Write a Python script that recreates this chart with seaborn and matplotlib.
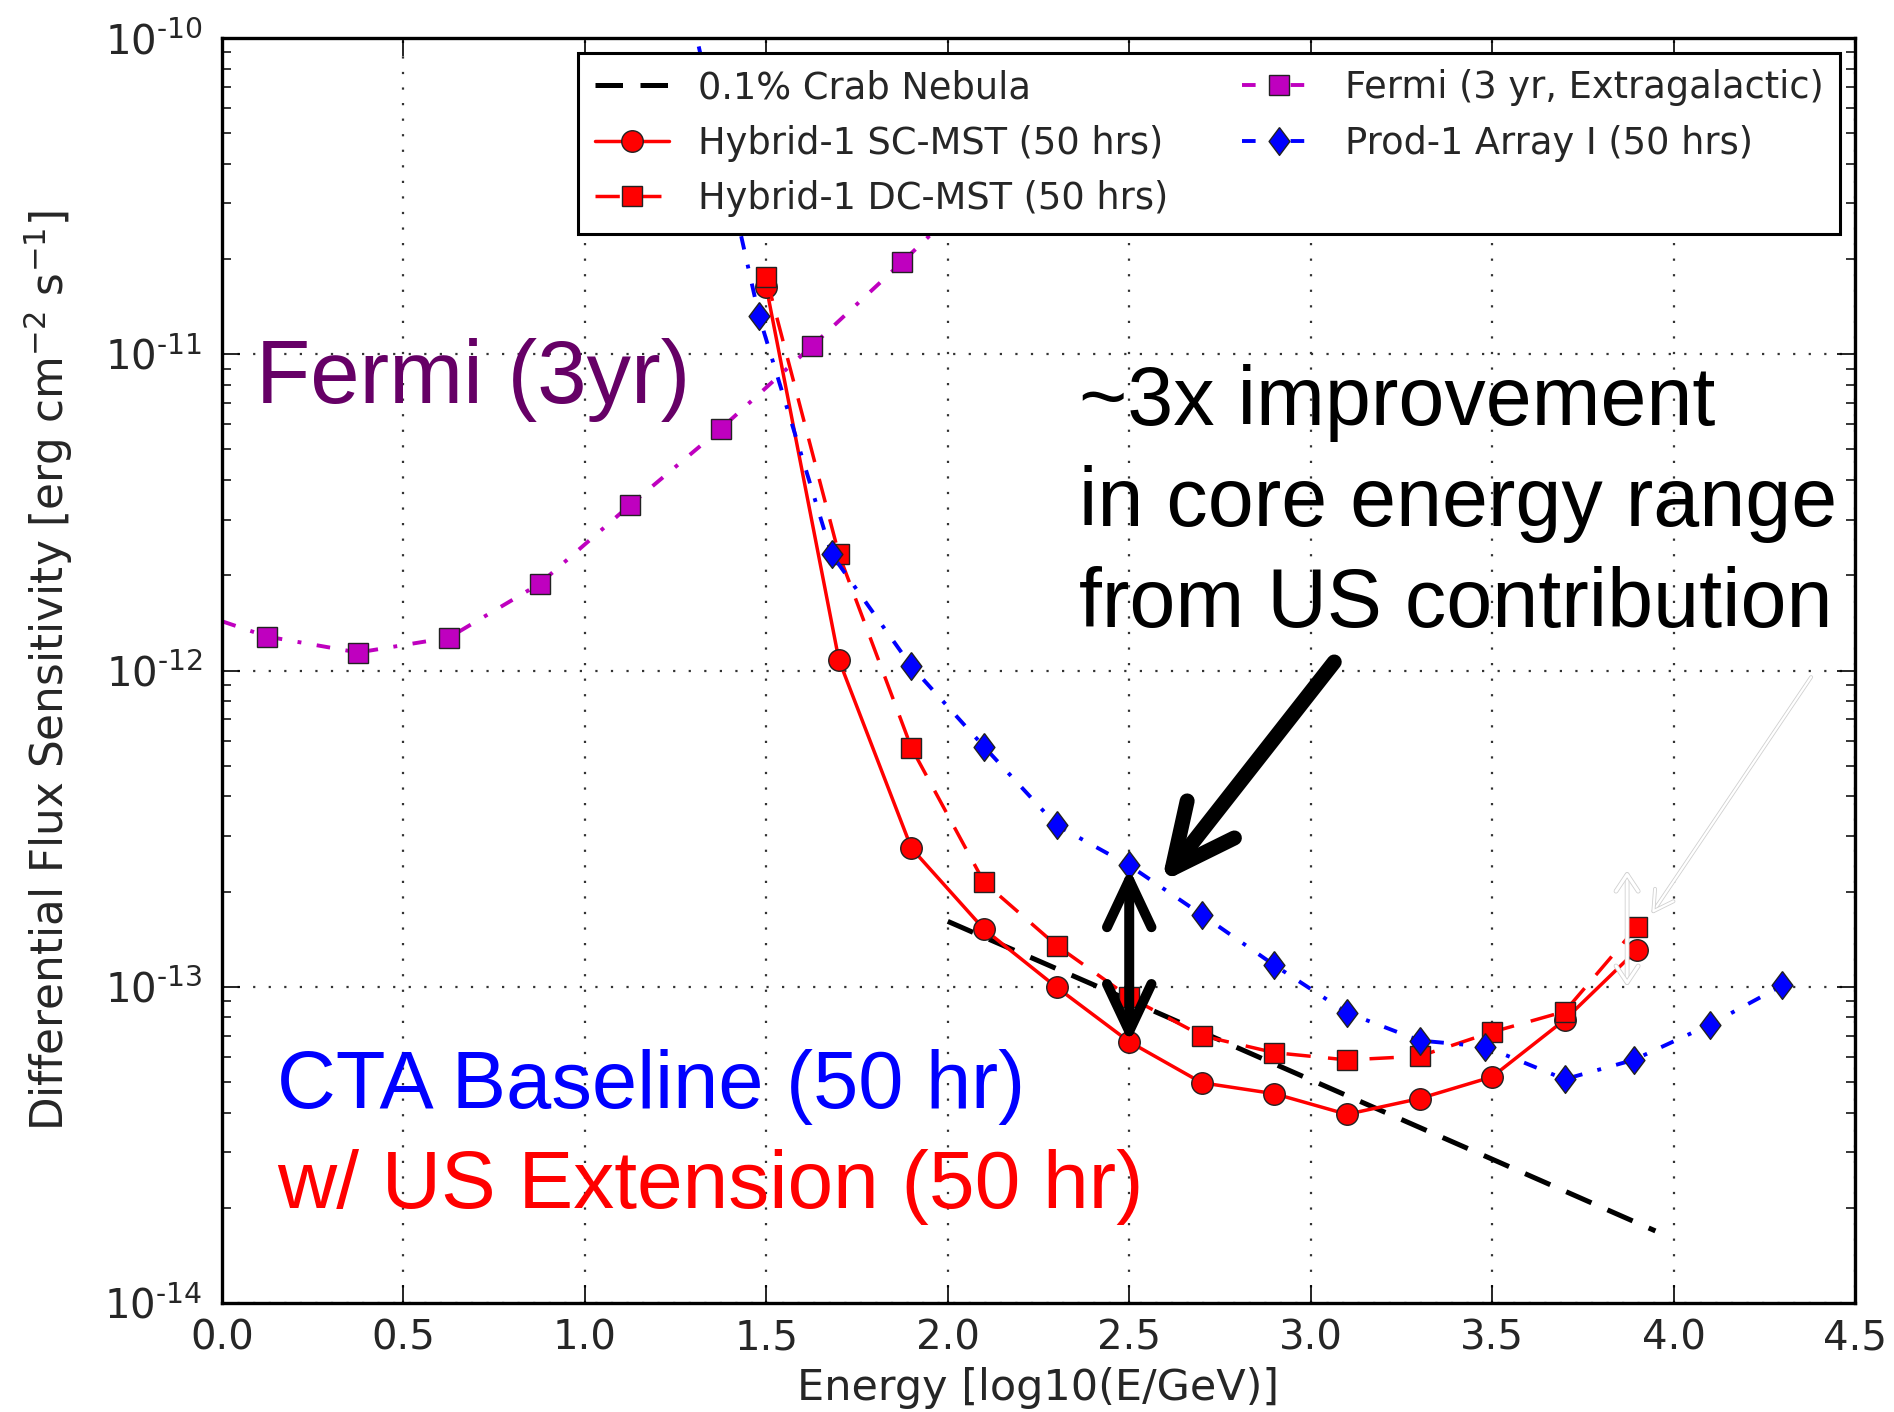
import numpy as np
import pandas as pd
import matplotlib
matplotlib.use("Agg")
import matplotlib.pyplot as plt
import seaborn as sns
from matplotlib.patches import FancyArrowPatch, ArrowStyle
from matplotlib import patheffects as pe
from matplotlib.ticker import FixedLocator, FixedFormatter, LogLocator, NullFormatter

# ---------------- data ----------------
crab_x = [2.0, 2.5, 3.0, 3.5, 3.95]
crab_y = [1.61e-13, 9.06e-14, 5.08e-14, 2.85e-14, 1.69e-14]

sc_x = [1.5, 1.7, 1.9, 2.1, 2.3, 2.5, 2.7, 2.9, 3.1, 3.3, 3.5, 3.7, 3.9]
sc_y = [1.63e-11, 1.08e-12, 2.74e-13, 1.52e-13, 9.96e-14, 6.70e-14, 4.97e-14,
        4.59e-14, 3.95e-14, 4.43e-14, 5.19e-14, 7.86e-14, 1.31e-13]

dc_x = [1.5, 1.7, 1.9, 2.1, 2.3, 2.5, 2.7, 2.9, 3.1, 3.3, 3.5, 3.7, 3.9]
dc_y = [1.75e-11, 2.33e-12, 5.69e-13, 2.14e-13, 1.35e-13, 9.27e-14, 7.0e-14,
        6.19e-14, 5.87e-14, 6.03e-14, 7.19e-14, 8.35e-14, 1.55e-13]

fermi_x = [-0.125, 0.125, 0.375, 0.625, 0.875, 1.125, 1.375, 1.625, 1.875, 2.125]
fermi_y = [1.6e-12, 1.28e-12, 1.14e-12, 1.27e-12, 1.88e-12, 3.34e-12, 5.82e-12,
           1.06e-11, 1.96e-11, 3.7e-11]

prod_x = [1.28, 1.48, 1.68, 1.9, 2.1, 2.3, 2.5, 2.7, 2.9, 3.1, 3.3, 3.48, 3.7, 3.89, 4.1, 4.3]
prod_y = [1.4e-10, 1.32e-11, 2.33e-12, 1.03e-12, 5.74e-13, 3.24e-13, 2.42e-13,
          1.69e-13, 1.17e-13, 8.28e-14, 6.76e-14, 6.47e-14, 5.10e-14, 5.87e-14,
          7.59e-14, 1.01e-13]

labels = ["0.1% Crab Nebula", "Hybrid-1 SC-MST (50 hrs)", "Hybrid-1 DC-MST (50 hrs)",
          "Fermi (3 yr, Extragalactic)", "Prod-1 Array I (50 hrs)"]

xticks = [0.0, 0.5, 1.0, 1.5, 2.0, 2.5, 3.0, 3.5, 4.0, 4.5]
yticks = [1e-14, 1e-13, 1e-12, 1e-11, 1e-10]
ytick_labels = [r"$10^{\text{-}14}$", r"$10^{\text{-}13}$", r"$10^{\text{-}12}$",
                r"$10^{\text{-}11}$", r"$10^{\text{-}10}$"]

# ---------------- style ----------------
sns.set_style("ticks")
plt.rcParams["font.family"] = ["DejaVu Sans"]
plt.rcParams["mathtext.default"] = "regular"
plt.rcParams["axes.unicode_minus"] = False

W, H = 1894, 1412
fig = plt.figure(figsize=(W / 100, H / 100), dpi=100)
ax = fig.add_axes([222 / W, (H - 1303) / H, (1855 - 222) / W, (1303 - 38) / H])
ax.set_yscale("log")

def fxy(px, py):
    return (px / W, 1 - py / H)

# Crab
sns.lineplot(x=crab_x, y=crab_y, ax=ax, color="k", lw=3.6, sort=False, estimator=None,
             linestyle=(0, (5.5, 3.5)), label=labels[0])
# SC-MST
sns.lineplot(x=sc_x, y=sc_y, ax=ax, color="#ff0000", lw=2.5, sort=False, estimator=None,
             marker="o", markersize=15.5, markeredgecolor="#222222", markeredgewidth=1.0,
             label=labels[1])
# DC-MST
sns.lineplot(x=dc_x, y=dc_y, ax=ax, color="#ff0000", lw=2.5, sort=False, estimator=None,
             linestyle=(0, (7, 5)), marker="s", markersize=15,
             markeredgecolor="#222222", markeredgewidth=1.0, label=labels[2])
# Fermi
sns.lineplot(x=fermi_x, y=fermi_y, ax=ax, color="#bf00bf", lw=2.8, sort=False, estimator=None,
             linestyle=(0, (3.5, 4, 1, 4)), marker="s", markersize=15,
             markeredgecolor="#222222", markeredgewidth=1.0, label=labels[3])
# Prod-1
diamond = [(0, 1), (0.75, 0), (0, -1), (-0.75, 0), (0, 1)]
sns.lineplot(x=prod_x, y=prod_y, ax=ax, color="#0000ff", lw=2.8, sort=False, estimator=None,
             linestyle=(0, (3.5, 4, 1, 4)), marker=diamond, markersize=20,
             markeredgecolor="#222222", markeredgewidth=1.0, label=labels[4])

ax.set_xlim(0, 4.5)
ax.set_ylim(1e-14, 1e-10)
ax.xaxis.set_major_locator(FixedLocator(xticks))
ax.set_xticklabels([f"{v:.1f}" for v in xticks])
ax.yaxis.set_major_locator(FixedLocator(yticks))
ax.yaxis.set_major_formatter(FixedFormatter(ytick_labels))
ax.yaxis.set_minor_locator(LogLocator(base=10, subs=np.arange(2, 10)))
ax.yaxis.set_minor_formatter(NullFormatter())
ax.xaxis.set_minor_locator(FixedLocator([]))

ax.tick_params(which="both", direction="in", top=True, right=True, color="k")
ax.tick_params(which="major", length=13, width=1.2, labelsize=29)
ax.tick_params(which="minor", length=6.5, width=1.1)
ax.tick_params(axis="y", which="major", pad=14)
ax.tick_params(axis="x", which="major", pad=11)
for s in ax.spines.values():
    s.set_linewidth(2.4)
    s.set_color("k")

ax.grid(True, which="major", color="#333333", linestyle=(0, (1, 6)), lw=1.6)
ax.set_axisbelow(True)

ax.set_xlabel("Energy [log10(E/GeV)]", fontsize=31, labelpad=6)
ax.set_ylabel(r"Differential Flux Sensitivity [erg cm$^{-2}$ s$^{-1}$]", fontsize=31.5, labelpad=21)

leg = ax.legend(loc="upper right", ncol=2, fontsize=26.5, frameon=True, fancybox=False,
                edgecolor="k", framealpha=1, numpoints=1, handlelength=2.0,
                handletextpad=0.8, columnspacing=2.0, labelspacing=0.5,
                borderaxespad=0.4, borderpad=0.45)
leg.get_frame().set_linewidth(2.2)

# ---------------- annotations ----------------
big = FancyArrowPatch((3.065, 1.064e-12), (2.589, 2.14e-13), transform=ax.transData,
                      arrowstyle=ArrowStyle("->", head_length=45, head_width=21.6),
                      mutation_scale=1, lw=10.8, color="k", shrinkA=0, shrinkB=0,
                      capstyle="round", joinstyle="round", zorder=10)
ax.add_patch(big)
dbl = FancyArrowPatch((2.5, 6.64e-14), (2.5, 2.37e-13), transform=ax.transData,
                      arrowstyle=ArrowStyle("<->", head_length=34, head_width=16),
                      mutation_scale=1, lw=7.2, color="k", shrinkA=0, shrinkB=0,
                      capstyle="round", joinstyle="round", zorder=10)
ax.add_patch(dbl)
wdbl = FancyArrowPatch((3.872, 1.01e-13), (3.872, 2.31e-13), transform=ax.transData,
                       arrowstyle=ArrowStyle("<->", head_length=12, head_width=8),
                       mutation_scale=1, lw=2.2, color="white", shrinkA=0, shrinkB=0,
                       capstyle="round", zorder=10,
                       path_effects=[pe.withStroke(linewidth=3.4, foreground="#d0d0d0")])
ax.add_patch(wdbl)
wthin = FancyArrowPatch((4.379, 9.53e-13), (3.941, 1.71e-13), transform=ax.transData,
                        arrowstyle=ArrowStyle("->", head_length=14, head_width=8),
                        mutation_scale=1, lw=1.6, color="white", shrinkA=0, shrinkB=0,
                        capstyle="round", zorder=10,
                        path_effects=[pe.withStroke(linewidth=2.8, foreground="#d0d0d0")])
ax.add_patch(wthin)

ov = ["Liberation Sans", "DejaVu Sans"]
fig.text(*fxy(256, 403), "Fermi (3yr)", color="#660066", fontsize=64, family=ov,
         ha="left", va="baseline")
for i, line in enumerate(["~3x improvement", "in core energy range", "from US contribution"]):
    fig.text(*fxy(1079, 425 + 101 * i), line, color="k", fontsize=59.5, family=ov,
             ha="left", va="baseline")
fig.text(*fxy(277, 1108), "CTA Baseline (50 hr)", color="#0000ff", fontsize=58.5, family=ov,
         ha="left", va="baseline")
fig.text(*fxy(277, 1208), "w/ US Extension (50 hr)", color="#ff0000", fontsize=59, family=ov,
         ha="left", va="baseline")

fig.savefig("out.png", dpi=100)
